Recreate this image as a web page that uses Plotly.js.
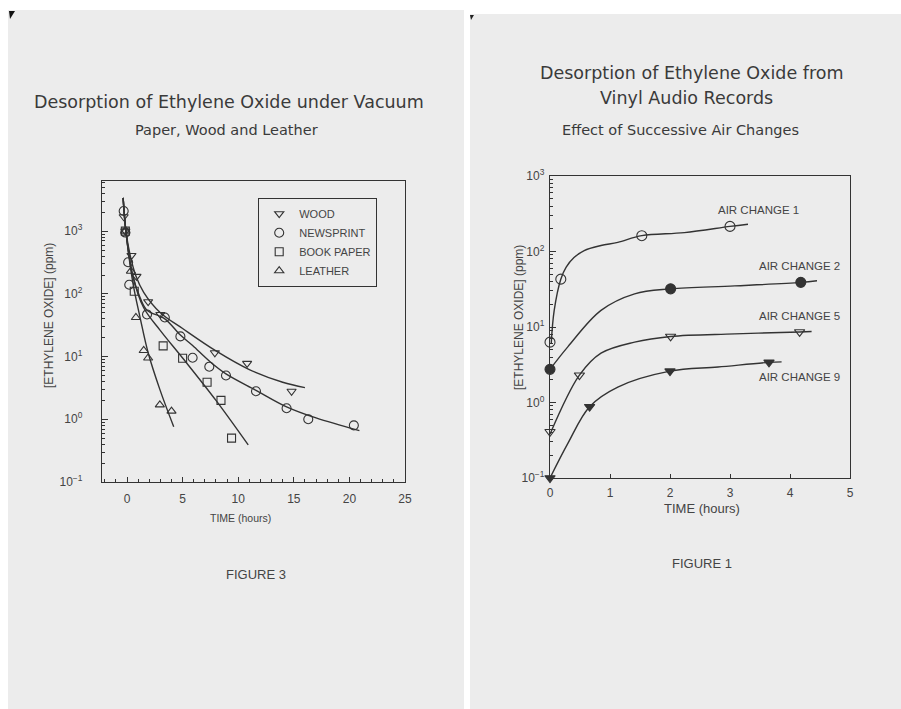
<!DOCTYPE html>
<html>
<head>
<meta charset="utf-8">
<script src="https://cdn.plot.ly/plotly-3.0.1.min.js"></script>
<style>html,body{margin:0;padding:0;background:#fff;}#chart{width:901px;height:709px;}</style>
</head>
<body>
<div id="chart"></div>
<script>
// ---------- FIGURE 3 : desorption under vacuum ----------
const woodX = [-0.3, -0.15, 0.4, 0.85, 1.9, 3.0, 7.9, 10.8, 14.8];
const woodY = [1700, 1000, 410, 190, 75, 47, 11.5, 7.8, 2.8];
const newsX = [-0.3, -0.15, 0.1, 0.2, 1.8, 3.4, 4.8, 5.9, 7.4, 8.9, 11.6, 14.35, 16.3, 20.4];
const newsY = [2100, 950, 320, 140, 47, 42, 21, 9.6, 6.9, 5.0, 2.8, 1.5, 1.0, 0.8];
const bookX = [-0.15, 0.65, 3.25, 5.0, 7.2, 8.45, 9.4];
const bookY = [1000, 110, 14.8, 9.4, 3.9, 2.0, 0.5];
const leatherX = [-0.15, 0.35, 0.8, 1.5, 1.9, 2.95, 4.0];
const leatherY = [1000, 230, 42, 12.5, 9.5, 1.7, 1.35];

const woodFitX = [-0.35, -0.1, 0.3, 0.8, 1.5, 3, 5, 8, 11, 14, 16];
const woodFitY = [3400, 1000, 400, 193, 106, 50, 28, 12.3, 6.2, 3.9, 3.2];
const newsFitX = [-0.35, -0.1, 0.5, 1.2, 1.8, 3.4, 4.8, 5.9, 7.4, 8.9, 11.6, 14.35, 17, 20.9];
const newsFitY = [3400, 1000, 200, 85, 55, 40, 22, 15, 8.5, 5.3, 2.9, 1.58, 1.05, 0.66];
const bookFitX = [-0.35, -0.1, 0.5, 1.5, 3, 5, 8, 10.9];
const bookFitY = [3400, 1000, 200, 60, 26, 9.5, 2.0, 0.39];
const leatherFitX = [-0.35, -0.1, 0.5, 1.2, 1.9, 2.95, 4.2];
const leatherFitY = [3400, 1000, 160, 40, 11.5, 3.0, 0.76];

const leftNames = ['WOOD', 'NEWSPRINT', 'BOOK PAPER', 'LEATHER'];

// ---------- FIGURE 1 : vinyl audio records ----------
const ac1X = [0, 0.18, 1.53, 3.0];
const ac1Y = [6.3, 43, 162, 215];
const ac2X = [0, 2.01, 4.18];
const ac2Y = [2.75, 32, 39];
const ac5X = [0, 0.49, 2.01, 4.16];
const ac5Y = [0.41, 2.3, 7.5, 8.6];
const ac9X = [0, 0.66, 2.0, 3.65];
const ac9Y = [0.1, 0.88, 2.6, 3.4];

const ac1FitX = [0.02, 0.07, 0.18, 0.27, 0.4, 0.57, 0.85, 1.13, 1.53, 2.24, 3.0, 3.3];
const ac1FitY = [6, 16.6, 43, 62, 83, 103, 120, 132, 162, 178, 215, 230];
const ac2FitX = [0, 0.3, 0.85, 1.41, 2.01, 3.08, 4.18, 4.45];
const ac2FitY = [2.75, 5.5, 16.6, 27.5, 32, 35, 39, 41];
const ac5FitX = [0, 0.49, 0.85, 1.41, 2.01, 3.08, 4.16, 4.36];
const ac5FitY = [0.38, 2.3, 4.5, 6.3, 7.5, 8.1, 8.6, 8.7];
const ac9FitX = [0, 0.3, 0.66, 1.13, 2.0, 2.8, 3.65, 3.86];
const ac9FitY = [0.1, 0.29, 0.88, 1.6, 2.6, 2.95, 3.4, 3.45];

const acLabels = ['AIR CHANGE 1', 'AIR CHANGE 2', 'AIR CHANGE 5', 'AIR CHANGE 9'];
const acLabelX = [3.48, 4.15, 4.15, 4.15];
const acLabelY = [355, 65, 13.8, 2.2];

const yTickVals = [0.1, 1, 10, 100, 1000];
const yTickText = ['10<sup>−1</sup>', '10<sup>0</sup>', '10<sup>1</sup>', '10<sup>2</sup>', '10<sup>3</sup>'];

const INK = '#333333';
const TXT = '#444444';

function pts(x, y, name, symbol, xa, ya, show, size) {
  return {x: x, y: y, name: name, type: 'scatter', mode: 'markers', xaxis: xa, yaxis: ya,
    showlegend: show, cliponaxis: false,
    marker: {symbol: symbol, size: size, color: INK, line: {color: INK, width: 1.1}}};
}
function fit(x, y, xa, ya) {
  return {x: x, y: y, type: 'scatter', mode: 'lines', xaxis: xa, yaxis: ya, showlegend: false,
    hoverinfo: 'skip', line: {color: INK, width: 1.4, shape: 'spline', smoothing: 1}};
}

const data = [
  fit(woodFitX, woodFitY, 'x', 'y'),
  fit(newsFitX, newsFitY, 'x', 'y'),
  fit(bookFitX, bookFitY, 'x', 'y'),
  fit(leatherFitX, leatherFitY, 'x', 'y'),
  pts(woodX, woodY, leftNames[0], 'triangle-down-open', 'x', 'y', true, 8),
  pts(newsX, newsY, leftNames[1], 'circle-open', 'x', 'y', true, 9),
  pts(bookX, bookY, leftNames[2], 'square-open', 'x', 'y', true, 8),
  pts(leatherX, leatherY, leftNames[3], 'triangle-up-open', 'x', 'y', true, 8),
  fit(ac1FitX, ac1FitY, 'x2', 'y2'),
  fit(ac2FitX, ac2FitY, 'x2', 'y2'),
  fit(ac5FitX, ac5FitY, 'x2', 'y2'),
  fit(ac9FitX, ac9FitY, 'x2', 'y2'),
  pts(ac1X, ac1Y, acLabels[0], 'circle-open', 'x2', 'y2', false, 10),
  pts(ac2X, ac2Y, acLabels[1], 'circle', 'x2', 'y2', false, 10),
  pts(ac5X, ac5Y, acLabels[2], 'triangle-down-open', 'x2', 'y2', false, 9),
  pts(ac9X, ac9Y, acLabels[3], 'triangle-down', 'x2', 'y2', false, 9)
];

const tickFont = {family: 'Liberation Sans, Arial, sans-serif', size: 12, color: TXT};
const baseAxis = {showline: true, mirror: true, linecolor: INK, linewidth: 1.2, showgrid: false,
  zeroline: false, tickfont: tickFont, tickcolor: INK};

const W = 901, H = 709;
const px = v => v / W, py = v => 1 - v / H;

function note(text, x, y, font, extra) {
  return Object.assign({text: text, x: px(x), y: py(y), xref: 'paper', yref: 'paper', showarrow: false,
    xanchor: 'center', yanchor: 'middle', font: font}, extra || {});
}
const titleFont = s => ({family: 'DejaVu Sans, sans-serif', size: s, color: '#3a3a3a'});
const labelFont = s => ({family: 'Liberation Sans, Arial, sans-serif', size: s, color: TXT});
const capFont = {family: 'Liberation Sans, Arial, sans-serif', size: 13, color: TXT};

const annotations = [
  note('Desorption of Ethylene Oxide under Vacuum', 229, 102, titleFont(17.5)),
  note('Paper, Wood and Leather', 226, 130, titleFont(14.5)),
  note('Desorption of Ethylene Oxide from', 691, 73, titleFont(17.5)),
  note('Vinyl Audio Records', 686, 98, titleFont(17.5)),
  note('Effect of Successive Air Changes', 680, 130, titleFont(14.5)),
  note('FIGURE 3', 256, 574, capFont),
  note('FIGURE 1', 702, 563, capFont),
  note('[ETHYLENE OXIDE] (ppm)', 49, 316, labelFont(12), {textangle: -90}),
  note('TIME (hours)', 241, 518, labelFont(10.5)),
  note('[ETHYLENE OXIDE] (ppm)', 519, 318, labelFont(12), {textangle: -90}),
  note('TIME (hours)', 702, 508, labelFont(13))
];
acLabels.forEach((t, i) => annotations.push({text: t, x: acLabelX[i], y: Math.log10(acLabelY[i]),
  xref: 'x2', yref: 'y2', showarrow: false, xanchor: 'center', yanchor: 'middle',
  font: {family: 'Liberation Sans, Arial, sans-serif', size: 11.5, color: TXT}}));

const shapes = [
  {type: 'rect', xref: 'paper', yref: 'paper', x0: px(8), x1: px(464), y0: 0, y1: py(10), layer: 'below',
    line: {width: 0}, fillcolor: '#ececec'},
  {type: 'rect', xref: 'paper', yref: 'paper', x0: px(470), x1: 1, y0: 0, y1: py(14), layer: 'below',
    line: {width: 0}, fillcolor: '#ececec'},
  {type: 'path', xref: 'paper', yref: 'paper', layer: 'below', line: {width: 0}, fillcolor: '#111',
    path: `M ${px(9)} ${py(11)} L ${px(15)} ${py(11)} L ${px(10)} ${py(19)} Z`},
  {type: 'path', xref: 'paper', yref: 'paper', layer: 'below', line: {width: 0}, fillcolor: '#222',
    path: `M ${px(470)} ${py(15)} L ${px(474)} ${py(15)} L ${px(471)} ${py(20)} Z`}
];

const layout = {
  width: W, height: H, margin: {l: 0, r: 0, t: 0, b: 0},
  paper_bgcolor: '#ffffff', plot_bgcolor: 'rgba(0,0,0,0)',
  showlegend: true,
  legend: {x: px(258), y: py(198), xanchor: 'left', yanchor: 'top', bgcolor: 'rgba(0,0,0,0)',
    bordercolor: INK, borderwidth: 1.2, font: {family: 'Liberation Sans, Arial, sans-serif', size: 11, color: TXT},
    tracegroupgap: 0, itemwidth: 30},
  xaxis: Object.assign({}, baseAxis, {domain: [px(102), px(405)], range: [-2.25, 25], anchor: 'y',
    ticks: 'inside', ticklen: 5, tick0: 0, dtick: 5, ticklabelstandoff: 5,
    minor: {ticks: 'inside', ticklen: 3, dtick: 1, tick0: 0, showgrid: false, tickcolor: INK}}),
  yaxis: Object.assign({}, baseAxis, {domain: [py(482), py(181)], type: 'log', range: [-1, 3.8], anchor: 'x',
    ticks: 'inside', ticklen: 6, tickmode: 'array', tickvals: yTickVals, ticktext: yTickText, ticklabelstandoff: 16,
    minor: {ticks: 'inside', ticklen: 3, tickmode: 'linear', dtick: 'D1', showgrid: false, tickcolor: INK}}),
  xaxis2: Object.assign({}, baseAxis, {domain: [px(550), px(850)], range: [0, 5], anchor: 'y2',
    ticks: 'inside', ticklen: 4, tick0: 0, dtick: 1, ticklabelstandoff: 3}),
  yaxis2: Object.assign({}, baseAxis, {domain: [py(478), py(176)], type: 'log', range: [-1, 3], anchor: 'x2',
    ticks: 'inside', ticklen: 6, tickmode: 'array', tickvals: yTickVals, ticktext: yTickText, ticklabelstandoff: 2,
    minor: {ticks: 'inside', ticklen: 3, tickmode: 'linear', dtick: 'D1', showgrid: false, tickcolor: INK}}),
  annotations: annotations,
  shapes: shapes
};

Plotly.newPlot('chart', data, layout, {staticPlot: true});
</script>
</body>
</html>
